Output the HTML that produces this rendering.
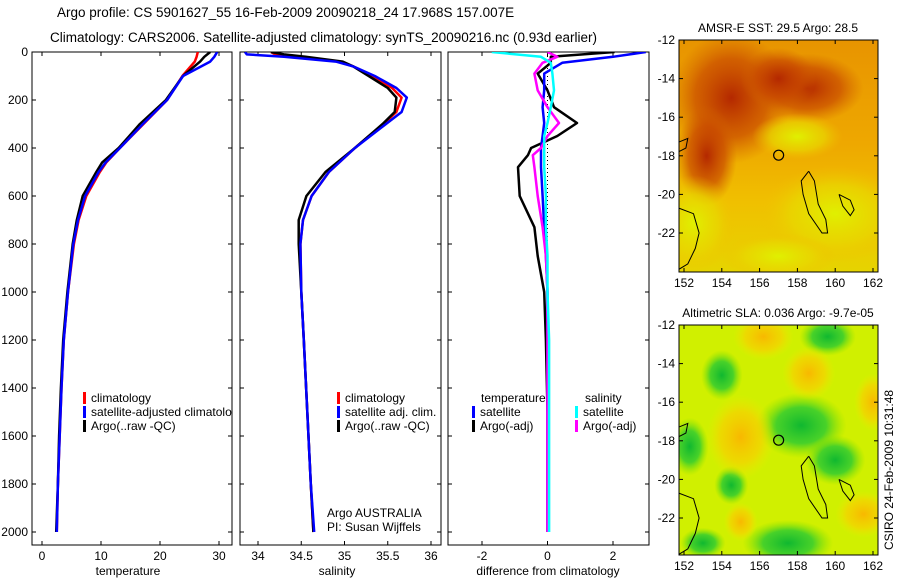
<!DOCTYPE html>
<html><head><meta charset="utf-8">
<style>
body{margin:0;background:#fff;}
svg{display:block;font-family:"Liberation Sans",sans-serif;}
</style></head>
<body>
<svg id="fig" width="900" height="580" viewBox="0 0 900 580">
<defs>
<radialGradient id="sstDark" cx="0.5" cy="0.5" r="0.5"><stop offset="0" stop-color="#b42800"/><stop offset="0.6" stop-color="#c84800" stop-opacity="0.7"/><stop offset="1" stop-color="#d06000" stop-opacity="0"/></radialGradient>
<radialGradient id="sstYel" cx="0.5" cy="0.5" r="0.5"><stop offset="0" stop-color="#e0f000"/><stop offset="0.6" stop-color="#e8d800" stop-opacity="0.7"/><stop offset="1" stop-color="#f0c000" stop-opacity="0"/></radialGradient>
<radialGradient id="slaYel" cx="0.5" cy="0.5" r="0.5"><stop offset="0" stop-color="#f8b800"/><stop offset="0.6" stop-color="#f8d000" stop-opacity="0.7"/><stop offset="1" stop-color="#f0e800" stop-opacity="0"/></radialGradient>
<radialGradient id="slaGrn" cx="0.5" cy="0.5" r="0.5"><stop offset="0" stop-color="#10b830"/><stop offset="0.55" stop-color="#30cc30" stop-opacity="0.85"/><stop offset="1" stop-color="#80e000" stop-opacity="0"/></radialGradient>
<linearGradient id="sstBase" x1="0" y1="0" x2="0" y2="1"><stop offset="0" stop-color="#e89400"/><stop offset="0.45" stop-color="#eea800"/><stop offset="0.7" stop-color="#f0c000"/><stop offset="1" stop-color="#e6d400"/></linearGradient>
<clipPath id="c1"><rect x="32" y="52" width="200" height="493"/></clipPath>
<clipPath id="c2"><rect x="240" y="52" width="201" height="493"/></clipPath>
<clipPath id="c3"><rect x="448" y="52" width="201" height="493"/></clipPath>
<clipPath id="m1"><rect x="679" y="40" width="199" height="232"/></clipPath>
<clipPath id="m2"><rect x="679" y="325" width="199" height="230"/></clipPath>
</defs>
<text x="57" y="17" font-size="13.5">Argo profile: CS 5901627_55 16-Feb-2009 20090218_24 17.968S 157.007E</text>
<text x="50" y="42" font-size="13.5">Climatology: CARS2006. Satellite-adjusted climatology: synTS_20090216.nc (0.93d earlier)</text>
<g id="plots"></g>
<text transform="translate(893,470) rotate(-90)" text-anchor="middle" font-size="12">CSIRO 24-Feb-2009 10:31:48</text>
</svg>
<script>
// ---- data ----
const tDepth=[0,20,40,100,200,300,400,460,500,600,700,800,1000,1200,1400,1600,1800,2000];
const tClim=[26.4,26.2,25.9,23.8,21.2,17.2,13.2,10.9,9.8,7.5,6.2,5.4,4.4,3.7,3.3,3.0,2.7,2.5];
const tSat=[29.7,29.2,28.5,23.9,21.2,17.1,13.2,10.8,9.6,7.3,6.1,5.3,4.4,3.7,3.3,3.0,2.7,2.5];
const tArgo=[28.5,27.5,26.8,23.9,21.0,16.6,13.0,10.2,9.2,6.9,5.9,5.2,4.3,3.6,3.2,2.9,2.7,2.4];
const sDepth=[0,10,20,40,60,100,150,190,250,300,400,500,600,700,800,1000,1200,1500,1800,2000];
const sClim=[34.15,34.2,34.5,34.95,35.1,35.33,35.55,35.66,35.6,35.45,35.12,34.82,34.62,34.52,34.49,34.5,34.53,34.57,34.61,34.64];
const sSat=[33.85,33.87,34.3,34.9,35.1,35.35,35.6,35.72,35.66,35.48,35.12,34.82,34.62,34.52,34.49,34.5,34.53,34.57,34.61,34.65];
const sArgo=[34.15,34.3,34.55,34.98,35.1,35.28,35.5,35.6,35.58,35.44,35.12,34.78,34.56,34.47,34.47,34.5,34.53,34.57,34.61,34.64];
const dDepth=[0,20,45,90,160,230,296,350,400,430,480,600,730,850,1000,1200,1500,2000];
const dTempSat=[3.0,2.0,0.45,-0.1,-0.1,-0.15,-0.1,-0.15,-0.2,-0.2,-0.2,-0.15,-0.1,-0.05,0,0,0,0];
const dTempArgo=[2.05,0.1,0.1,-0.3,0.0,0.2,0.9,0.3,-0.5,-0.6,-0.9,-0.85,-0.4,-0.3,-0.1,-0.05,0,0];
const dSalSat=[-1.7,-0.2,0.1,0.15,0.2,0.1,0.0,-0.1,-0.1,-0.1,-0.1,-0.05,-0.05,0,0,0.05,0.05,0.05];
const dSalArgo=[0.0,0.3,-0.15,-0.4,-0.3,0.0,0.35,0.0,-0.2,-0.45,-0.4,-0.3,-0.15,-0.05,0,0,0,0];
const depthTicks=[0,200,400,600,800,1000,1200,1400,1600,1800,2000];
const tTicks=[0,10,20,30];
const sTicks=[34,34.5,35,35.5,36];
const sTickLabels=["34","34.5","35","35.5","36"];
const dTicks=[-2,0,2];
const lonTicks=[152,154,156,158,160,162];
const latTicks=[12,14,16,18,20,22];

// ---- scales ----
const y0=52, yk=0.24, yBot=545;
const yD=d=>y0+d*yk;
function lin(d0,d1,r0,r1){return v=>r0+(v-d0)*(r1-r0)/(d1-d0);}
const xT=lin(0,30,42,219), xS=lin(34,36,258,431), xDf=lin(-2,2,482,613);
const mx=lin(152,162,684,873), my1=lin(12,22,40,233), my2=lin(12,22,325,518);
const NS="http://www.w3.org/2000/svg";
const root=document.getElementById('plots');
function mk(tag,attrs,parent){const e=document.createElementNS(NS,tag);for(const k in attrs)e.setAttribute(k,attrs[k]);(parent||root).appendChild(e);return e;}
function txt(s,attrs,parent){const e=mk('text',attrs,parent);e.textContent=s;return e;}

function axesBox(x,w,y,h,name){
  const r=mk('rect',{x:x,y:y,width:w,height:h,fill:'none',stroke:'#000','stroke-width':1});
  
  
}
function depthTicksFor(x,w,labels){
  depthTicks.forEach(d=>{
    const y=yD(d);
    mk('line',{x1:x,x2:x+4,y1:y,y2:y,stroke:'#000'});
    mk('line',{x1:x+w-4,x2:x+w,y1:y,y2:y,stroke:'#000'});
    if(labels){const t=txt(String(d),{x:x-4,y:y+4,'font-size':12,'text-anchor':'end'});
      
      }
  });
}
function xTicksFor(vals,labs,sc,name){
  vals.forEach((v,i)=>{const x=sc(v);
    mk('line',{x1:x,x2:x,y1:yBot,y2:yBot-4,stroke:'#000'});
    mk('line',{x1:x,x2:x,y1:y0,y2:y0+4,stroke:'#000'});
    const t=txt(labs[i],{x:x,y:yBot+15,'font-size':12,'text-anchor':'middle'});
    
    
  });
}
function profile(depths,vals,sc,color,clip,name,w){
  const pts=depths.map((d,i)=>sc(vals[i]).toFixed(1)+','+yD(d).toFixed(1)).join(' ');
  const p=mk('polyline',{points:pts,fill:'none',stroke:color,'stroke-width':w||2.5,'clip-path':'url(#'+clip+')','stroke-linejoin':'round'});
  
  
}
function legEntry(x,y,color,label,name,parent){
  const g=mk('g',{},parent);
  
  
  mk('rect',{x:x,y:y-10,width:3,height:12,fill:color},g);
  txt(label,{x:x+8,y:y,'font-size':12},g);
}

// panel 1: temperature
axesBox(32,200,y0,yBot-y0,'temperature-axes');
depthTicksFor(32,200,true);
xTicksFor(tTicks,tTicks.map(String),xT,'temperature-tick-label');
profile(tDepth,tClim,xT,'#f00','c1','temp-climatology-line');
profile(tDepth,tArgo,xT,'#000','c1','temp-argo-line');
profile(tDepth,tSat,xT,'#00f','c1','temp-satellite-line');
let t=txt('temperature',{x:128,y:575,'font-size':12,'text-anchor':'middle'});


const lg1=mk('g',{'clip-path':'url(#c1)'});
legEntry(83,402,'#f00','climatology','legend-climatology',lg1);
legEntry(83,416,'#00f','satellite-adjusted climatology','legend-satellite-adjusted',lg1);
legEntry(83,430,'#000','Argo(..raw -QC)','legend-argo',lg1);

// panel 2: salinity
axesBox(240,201,y0,yBot-y0,'salinity-axes');
depthTicksFor(240,201,false);
xTicksFor(sTicks,sTickLabels,xS,'salinity-tick-label');
profile(sDepth,sClim,xS,'#f00','c2','sal-climatology-line');
profile(sDepth,sArgo,xS,'#000','c2','sal-argo-line');
profile(sDepth,sSat,xS,'#00f','c2','sal-satellite-line');
t=txt('salinity',{x:337,y:575,'font-size':12,'text-anchor':'middle'});


legEntry(337,402,'#f00','climatology','legend-climatology-2');
legEntry(337,416,'#00f','satellite adj. clim.','legend-satellite-adj-2');
legEntry(337,430,'#000','Argo(..raw -QC)','legend-argo-2');
t=txt('Argo AUSTRALIA',{x:327,y:517,'font-size':12});


t=txt('PI: Susan Wijffels',{x:327,y:531,'font-size':12});



// panel 3: difference
axesBox(448,201,y0,yBot-y0,'difference-axes');
depthTicksFor(448,201,false);
xTicksFor(dTicks,dTicks.map(String),xDf,'difference-tick-label');
mk('line',{x1:xDf(0),x2:xDf(0),y1:y0,y2:yD(2000),stroke:'#000','stroke-dasharray':'1,3'});
profile(dDepth,dTempArgo,xDf,'#000','c3','diff-temp-argo-line');
profile(dDepth,dTempSat,xDf,'#00f','c3','diff-temp-satellite-line');
profile(dDepth,dSalArgo,xDf,'#f0f','c3','diff-sal-argo-line');
profile(dDepth,dSalSat,xDf,'#0ff','c3','diff-sal-satellite-line');
t=txt('difference from climatology',{x:548,y:575,'font-size':12,'text-anchor':'middle'});


t=txt('temperature',{x:481,y:402,'font-size':12});


t=txt('salinity',{x:585,y:402,'font-size':12});


legEntry(472,416,'#00f','satellite','legend-temp-satellite');
legEntry(472,430,'#000','Argo(-adj)','legend-temp-argo');
legEntry(575,416,'#0ff','satellite','legend-sal-satellite');
legEntry(575,430,'#f0f','Argo(-adj)','legend-sal-argo');

// maps
const sstBlobs=[[154.5,15,3.2,3.4,'sstDark'],[158.5,14.5,3,1.8,'sstDark'],[153.2,18,1.6,2.6,'sstDark'],[157,14,2,1.6,'sstDark'],[158,17,2.4,1.2,'sstYel'],[160,21,4,2.5,'sstYel'],[152.5,21.5,2.2,2.5,'sstYel'],[157,23.2,3,1.2,'sstYel']];
const slaBlobs=[[154,14.6,1.1,1.3,'slaGrn'],[158.2,17.2,2.4,1.7,'slaGrn'],[160,19,1.6,1.3,'slaGrn'],[154.5,20.3,0.9,1,'slaGrn'],[152.3,18.3,1,1.5,'slaGrn'],[157.5,23.3,2.4,1.2,'slaGrn'],[153,23.3,1.2,0.8,'slaGrn'],[159.6,12.6,1.5,1,'slaGrn'],[156.2,12.6,1.6,1.2,'slaYel'],[155,17.8,1.8,2.2,'slaYel'],[158.6,14.5,1.4,1.4,'slaYel'],[161.5,21.8,1.5,1.2,'slaYel'],[162,16,1,1.5,'slaYel'],[155,22.2,0.9,1,'slaYel']];
const coast=[[[151.7,20.7],[152.5,21],[152.8,22],[152.6,22.8],[152.2,23.6],[151.7,23.9]],[[158.6,18.8],[158.9,19.3],[159.1,20.5],[159.5,21.3],[159.6,22],[159.3,22],[158.6,21],[158.3,20],[158.2,19.3],[158.6,18.8]],[[160.2,20],[160.8,20.3],[161,20.8],[160.8,21.1],[160.4,20.6],[160.2,20]],[[151.7,17.3],[152.2,17.1],[152.1,17.6],[151.7,17.8]]];
function drawMap(my,y,h,base,blobs,clip,title,name){
  const g=mk('g',{'clip-path':'url(#'+clip+')'});
  
  
  mk('rect',{x:679,y:y,width:199,height:h,fill:base},g);
  blobs.forEach(b=>{
    mk('ellipse',{cx:mx(b[0]),cy:my(b[1]),rx:b[2]*18.9,ry:b[3]*19.3,fill:'url(#'+b[4]+')'},g);
  });
  coast.forEach(c=>{
    mk('polyline',{points:c.map(p=>mx(p[0]).toFixed(1)+','+my(p[1]).toFixed(1)).join(' '),fill:'none',stroke:'#000','stroke-width':1},g);
  });
  mk('circle',{cx:mx(157.007),cy:my(17.968),r:5,fill:'none',stroke:'#000','stroke-width':1.2},g);
  axesBox(679,199,y,h,name+'-frame');
  lonTicks.forEach(v=>{const x=mx(v);
    mk('line',{x1:x,x2:x,y1:y+h,y2:y+h-4,stroke:'#000'});
    mk('line',{x1:x,x2:x,y1:y,y2:y+4,stroke:'#000'});
    const tl=txt(String(v),{x:x,y:y+h+15,'font-size':12,'text-anchor':'middle'});
    
    });
  latTicks.forEach(v=>{const yy=my(v);
    mk('line',{x1:679,x2:683,y1:yy,y2:yy,stroke:'#000'});
    mk('line',{x1:874,x2:878,y1:yy,y2:yy,stroke:'#000'});
    const tl=txt('-'+v,{x:675,y:yy+4,'font-size':12,'text-anchor':'end'});
    
    });
  const tt=txt(title,{x:778,y:y-8,'font-size':12,'text-anchor':'middle'});
  
  
}
drawMap(my1,40,232,'url(#sstBase)',sstBlobs,'m1','AMSR-E SST: 29.5 Argo: 28.5','sst-map');
drawMap(my2,325,230,'#d0f000',slaBlobs,'m2','Altimetric SLA: 0.036 Argo: -9.7e-05','sla-map');
</script>
</body></html>
